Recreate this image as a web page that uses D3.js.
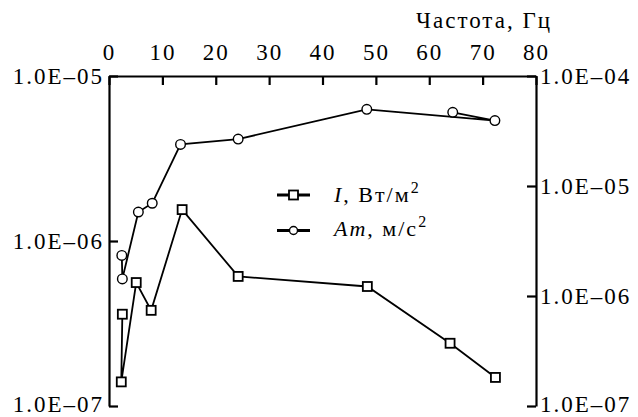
<!DOCTYPE html>
<html>
<head>
<meta charset="utf-8">
<script src="https://cdn.jsdelivr.net/npm/d3@7"></script>
<style>
  body { margin: 0; background: #fff; }
  text { font-family: "Liberation Serif", "Times New Roman", serif; fill: #000; }
</style>
</head>
<body>
<svg id="chart" width="638" height="417"></svg>
<script>
// frequency, Hz
var freqI = [2.5, 2.3, 5.1, 7.9, 13.7, 24.2, 48.4, 63.9, 72.4];
// I, W/m2 (left axis)
var valI = [3.6e-7, 1.4e-7, 5.6e-7, 3.8e-7, 1.55e-6, 6.1e-7, 5.3e-7, 2.4e-7, 1.49e-7];
// frequency, Hz
var freqAm = [2.4, 2.5, 5.5, 8.1, 13.4, 24.2, 48.3, 72.3, 64.4];
// Am, m/s2 (right axis)
var valAm = [2.34e-6, 1.43e-6, 5.8e-6, 6.97e-6, 2.39e-5, 2.67e-5, 4.98e-5, 3.93e-5, 4.68e-5];

var xTicks = [0, 10, 20, 30, 40, 50, 60, 70, 80];
var leftTicks = [1e-7, 1e-6, 1e-5];
var rightTicks = [1e-7, 1e-6, 1e-5, 1e-4];

var plotLeft = 109, plotRight = 536, plotTop = 76, plotBottom = 406;

var svg = d3.select("#chart");

var x = d3.scaleLinear().domain([0, 80]).range([plotLeft, plotRight]);
var yL = d3.scaleLog().domain([1e-7, 1e-5]).range([plotBottom, plotTop]);
var yR = d3.scaleLog().domain([1e-7, 1e-4]).range([plotBottom, plotTop]);

function sci(d) {
    var e = -Math.round(Math.log10(d));
    return "1.0E\u2013" + String(e).padStart(2, "0");
}

function styleAxis(g) {
    g.select(".domain").attr("stroke", "#000").attr("stroke-width", 2.2);
    g.selectAll(".tick line").attr("stroke", "#000").attr("stroke-width", 2.2);
    g.selectAll(".tick text")
        .style("font-size", "23px")
        .style("letter-spacing", "2px")
        .style("font-family", "'Liberation Serif', serif");
}

// top axis
svg.append("g")
    .attr("transform", "translate(0," + plotTop + ")")
    .call(d3.axisTop(x).tickValues(xTicks).tickSizeInner(-9).tickSizeOuter(0).tickPadding(16))
    .call(styleAxis);

// left axis
svg.append("g")
    .attr("transform", "translate(" + plotLeft + ",0)")
    .call(d3.axisLeft(yL).tickValues(leftTicks).tickFormat(sci).tickSizeInner(-9).tickSizeOuter(0).tickPadding(5))
    .call(styleAxis);

// right axis
svg.append("g")
    .attr("transform", "translate(" + plotRight + ",0)")
    .call(d3.axisRight(yR).tickValues(rightTicks).tickFormat(sci).tickSizeInner(-9).tickSizeOuter(0).tickPadding(4))
    .call(styleAxis);

// keep the lowest labels inside the picture
svg.selectAll(".tick text")
    .filter(d => d === 1e-7)
    .attr("dy", "0.22em");

// axis title
svg.append("text")
    .attr("x", 552)
    .attr("y", 28)
    .attr("text-anchor", "end")
    .style("font-size", "23px")
    .style("letter-spacing", "2px")
    .text("Частота, Гц");

// lines
var dataI = freqI.map(function (f, i) { return [f, valI[i]]; });
var dataAm = freqAm.map(function (f, i) { return [f, valAm[i]]; });

var lineI = d3.line().x(d => x(d[0])).y(d => yL(d[1]));
var lineAm = d3.line().x(d => x(d[0])).y(d => yR(d[1]));

svg.append("path").attr("d", lineI(dataI))
    .attr("fill", "none").attr("stroke", "#000").attr("stroke-width", 1.8);
svg.append("path").attr("d", lineAm(dataAm))
    .attr("fill", "none").attr("stroke", "#000").attr("stroke-width", 1.8);

// markers
svg.selectAll(".sq")
    .data(dataI)
    .enter()
    .append("rect")
    .attr("class", "sq")
    .attr("x", d => x(d[0]) - 4.5)
    .attr("y", d => yL(d[1]) - 4.5)
    .attr("width", 9)
    .attr("height", 9)
    .attr("fill", "#fff")
    .attr("stroke", "#000")
    .attr("stroke-width", 1.8);

svg.selectAll(".ci")
    .data(dataAm)
    .enter()
    .append("circle")
    .attr("class", "ci")
    .attr("cx", d => x(d[0]))
    .attr("cy", d => yR(d[1]))
    .attr("r", 4.8)
    .attr("fill", "#fff")
    .attr("stroke", "#000")
    .attr("stroke-width", 1.4);

// legend
var legend = svg.append("g");
legend.append("line").attr("x1", 277).attr("x2", 310).attr("y1", 195).attr("y2", 195)
    .attr("stroke", "#000").attr("stroke-width", 2.8);
legend.append("rect").attr("x", 289).attr("y", 190.5).attr("width", 9).attr("height", 9)
    .attr("fill", "#fff").attr("stroke", "#000").attr("stroke-width", 1.8);
legend.append("line").attr("x1", 277).attr("x2", 310).attr("y1", 230.5).attr("y2", 230.5)
    .attr("stroke", "#000").attr("stroke-width", 2.8);
legend.append("circle").attr("cx", 293.5).attr("cy", 230.5).attr("r", 4)
    .attr("fill", "#fff").attr("stroke", "#000").attr("stroke-width", 1.4);

var t1 = legend.append("text").attr("x", 334).attr("y", 202)
    .style("font-size", "22px").style("letter-spacing", "2px");
t1.append("tspan").style("font-style", "italic").text("I");
t1.append("tspan").text(", Вт/м");
t1.append("tspan").attr("dy", -9).style("font-size", "16px").text("2");

var t2 = legend.append("text").attr("x", 334).attr("y", 236)
    .style("font-size", "22px").style("letter-spacing", "2px");
t2.append("tspan").style("font-style", "italic").text("Am");
t2.append("tspan").text(", м/с");
t2.append("tspan").attr("dy", -9).style("font-size", "16px").text("2");
</script>
</body>
</html>
